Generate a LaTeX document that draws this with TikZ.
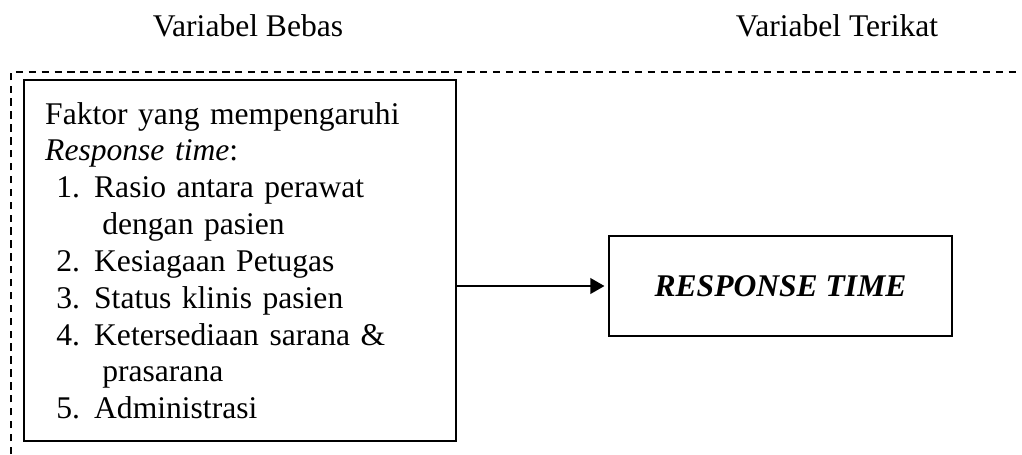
\documentclass[tikz,border=0pt]{standalone}
\usepackage{fontspec}
\setmainfont{Liberation Serif}
\usetikzlibrary{positioning}
\usetikzlibrary{arrows.meta}

\newcommand{\butir}[2]{\hspace*{4.2pt}\makebox[14.4pt][l]{#1}#2}
\newcommand{\lanjut}[1]{\hspace*{21.7pt}#1}

\begin{document}
\begin{tikzpicture}[
    x=0.38pt, y=-0.38pt,
    every node/.style={font=\fontsize{12pt}{14pt}\selectfont},
    kotak/.style={draw,line width=0.9pt,rectangle,inner ysep=0pt},
    judul/.style={anchor=base,inner sep=0pt},
    panah/.style={line width=0.75pt,-{Triangle[length=5.4pt,width=6pt]},shorten >=1.3pt},
    garisbatas/.style={line width=0.5pt,dash pattern=on 2.8pt off 2.1pt}
    ]

    \useasboundingbox (0,0) rectangle (1022,454);

    \node[judul] (bebas) at (248,36) {Variabel Bebas};
    \node[judul] (terikat) at (837,36) {Variabel Terikat};

    \coordinate (bawahkiri) at (11,454);
    \coordinate (ataskiri) at (11,72);
    \coordinate (ataskanan) at (1017,72);
    \draw[garisbatas] (bawahkiri) -- (ataskiri) -- (ataskanan);

    \node[kotak, anchor=north west, inner xsep=8pt, text width=148.2pt,
      minimum height=137.2pt, align=left] (faktor) at (23,79) {%
      Faktor yang mempengaruhi\\
      \textit{Response time}:\\
      \butir{1.}{Rasio antara perawat}\\
      \lanjut{dengan pasien}\\
      \butir{2.}{Kesiagaan Petugas}\\
      \butir{3.}{Status klinis pasien}\\
      \butir{4.}{Ketersediaan sarana \&}\\
      \lanjut{prasarana}\\
      \butir{5.}{Administrasi}};

    \node[kotak, minimum width=130.3pt, minimum height=38pt,
      font=\fontsize{12pt}{14pt}\selectfont\bfseries\itshape] (respon) at (780.5,286) {RESPONSE TIME};

    \draw[panah] (respon.west -| faktor.east) -- (respon.west);

  \end{tikzpicture}
\end{document}
